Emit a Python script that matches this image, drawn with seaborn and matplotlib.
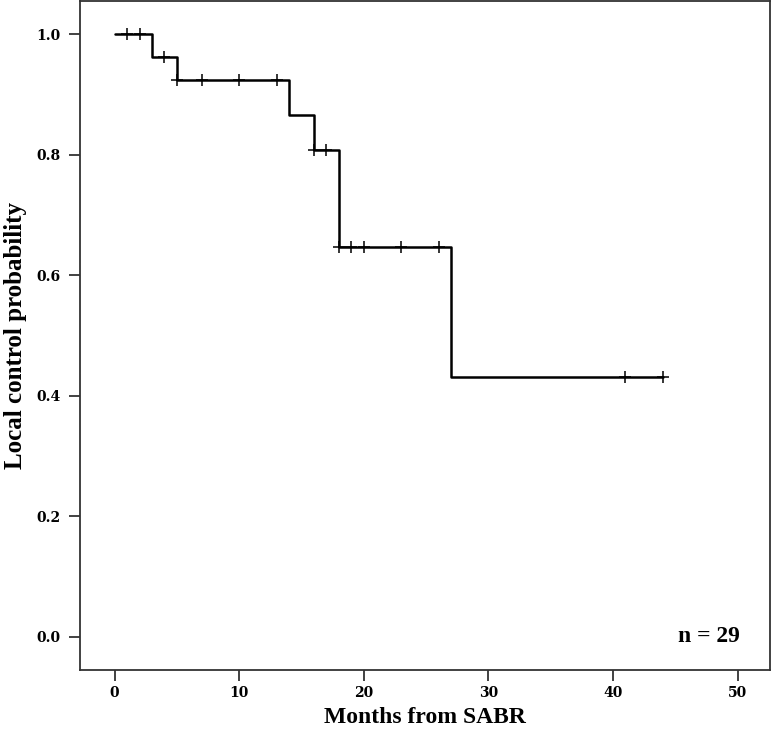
import numpy as np
import pandas as pd
import matplotlib
matplotlib.use("Agg")
import matplotlib.pyplot as plt
import seaborn as sns

# Kaplan-Meier steps (months, probability)
step_times = [0, 3, 5, 14, 16, 18, 27, 44]
step_surv = [1.0, 0.962, 0.923, 0.866, 0.808, 0.647, 0.431, 0.431]

# censored observations (months)
censor_times = [1, 2, 4, 5, 7, 10, 13, 16, 17, 18, 19, 20, 23, 26, 41, 44]

x_ticks = [0, 10, 20, 30, 40, 50]
y_ticks = [0.0, 0.2, 0.4, 0.6, 0.8, 1.0]
n_label = "n = 29"

sns.set_style("ticks")
plt.rcParams["font.family"] = ["Liberation Serif", "DejaVu Serif"]
plt.rcParams["font.weight"] = "bold"
plt.rcParams["text.color"] = "black"
plt.rcParams["axes.labelcolor"] = "black"

steps = pd.DataFrame({"time": step_times, "surv": step_surv})
idx = np.searchsorted(step_times, censor_times, side="right") - 1
censored = pd.DataFrame({"time": censor_times,
                         "surv": np.array(step_surv)[idx]})

fig = plt.figure(figsize=(7.73, 7.32), dpi=100)
ax = fig.add_axes([0.104, 0.085, 0.892, 0.913])

sns.lineplot(data=steps, x="time", y="surv", drawstyle="steps-post",
             color="black", linewidth=1.8, ax=ax)
sns.scatterplot(data=censored, x="time", y="surv", marker="+", s=70,
                color="black", linewidth=1.1, ax=ax, zorder=3)

ax.set_xlim(-2.75, 52.6)
ax.set_ylim(-0.055, 1.054)
ax.set_xticks(x_ticks)
ax.set_yticks(y_ticks)
ax.set_xticklabels([str(t) for t in x_ticks])
ax.set_yticklabels([f"{t:.1f}" for t in y_ticks])

for side in ["left", "right", "top", "bottom"]:
    ax.spines[side].set_visible(True)
    ax.spines[side].set_color("#333333")
    ax.spines[side].set_linewidth(1.3)

ax.tick_params(axis="both", direction="out", length=8, width=1.3,
               color="#333333", labelcolor="black")
ax.tick_params(axis="y", pad=6)
ax.tick_params(axis="x", pad=4)
# tick labels use a wider bold serif, as in the reference
for lab in ax.get_xticklabels() + ax.get_yticklabels():
    lab.set_fontfamily("DejaVu Serif")
    lab.set_fontweight("bold")
    lab.set_fontsize(10)

ax.set_xlabel("Months from SABR", fontsize=17, fontweight="bold", labelpad=5)
ax.set_ylabel("Local control probability", fontsize=18, fontweight="bold",
              labelpad=7)

ax.text(50.2, 0.0, n_label, ha="right", va="center", fontsize=17,
        fontweight="bold")

fig.savefig("out.png", dpi=100)
plt.close(fig)
